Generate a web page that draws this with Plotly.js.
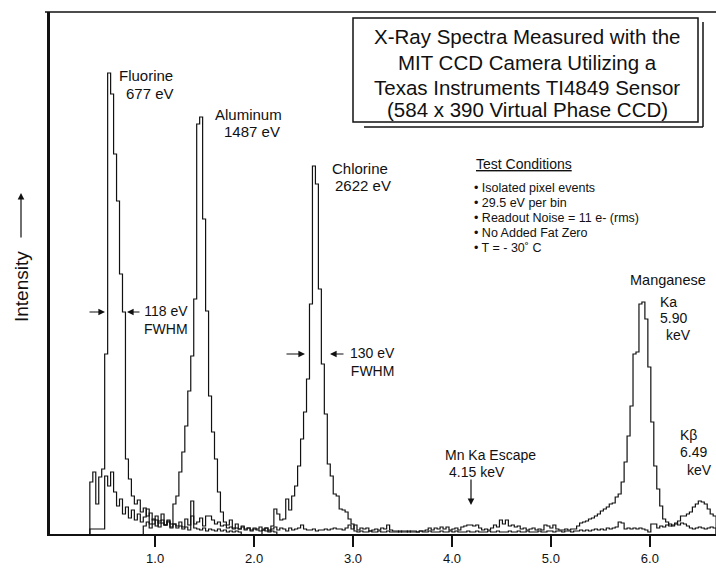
<!DOCTYPE html>
<html>
<head>
<meta charset="utf-8">
<script src="https://cdn.plot.ly/plotly-3.0.1.min.js"></script>
<style>html,body{margin:0;padding:0;background:#fff;}#chart{width:716px;height:568px;}</style>
</head>
<body>
<div id="chart"></div>
<script>
// ---------------- DATA (energy in keV, intensity in arbitrary counts) ----------------
const binWidth = 0.03;               // histogram bin width (keV)
const tickValues = [1, 2, 3, 4, 5, 6];
const tickLabels = ["1.0", "2.0", "3.0", "4.0", "5.0", "6.0"];

// Fluorine spectrum
const fluorineStart = 0.34;
const fluorineCounts = [52,62,30,57,65,180,461,440,380,333,260,222,75,55,38,30,34,22,26,18,21,14,18,11,14,9,12,7,10,6,8,5,7,4,33,6,5,4,6,3,5,4,3,5,3,4,2,3,2,3,2];

// Aluminum spectrum
const aluminumStart = 0.34;
const aluminumCounts = [5,5,5,5,5,58,48,62,42,28,35,20,27,16,24,14,20,12,17,25,10,15,8,13,20,9,14,10,
  30,38,62,82,108,143,178,235,410,417,315,223,138,102,75,42,22,12,
  9,14,6,10,5,8,4,6,3,5,4,3,4,3,2,3,2];

// Chlorine spectrum
const chlorineStart = 0.88;
const chlorineCounts = [8,12,6,10,14,7,11,9,13,6,10,8,12,7,15,9,18,10,12,16,8,18,18,14,10,12,8,9,6,7,5,6,5,7,5,6,4,6,5,7,5,6,4,
  8,25,20,14,15,35,24,38,48,68,95,122,155,230,368,350,245,170,120,70,58,40,38,25,24,22,15,10,
  3,2,3,2,2,3,2,2,3,2,2,3,2,2,2,3,
  2,2,3,2,2,2,3,2,2,3,2,2,2,3,2,2,3,2,3,2,2,2,3,2,2,3,2,2,2,3,2,2,3,2,2,2,3,2,2,3,2,2,3,2,2,2,3,2,2,3,
  3,2,3,3,2,3,3,2,3,3,4,3,4,3,4,5,4,
  5,4,6,5,6,7,12,11,5,6,5,6,5,6,5,4,2,10,10,6,8,7,9,10,8,11,9,11,10,8,6,5,6,7,6,5,6,7,6];

// Manganese spectrum (incl. Mn Ka escape, Ka and Kb lines)
const manganeseStart = 2.08;
const manganeseCounts = [4,6,3,5,7,4,6,5,3,6,4,5,
  6,9,5,4,4,5,3,4,4,5,4,5,6,5,5,4,6,9,5,9,4,6,5,6,3,4,5,4,6,5,
  9,4,3,3,2,3,3,2,3,3,2,3,3,4,6,4,6,5,7,5,7,4,5,6,4,7,8,9,9,8,
  9,6,4,5,4,6,9,7,14,10,14,8,9,7,8,5,6,4,5,6,4,5,4,9,8,6,9,5,4,4,
  5,4,5,5,8,
  11,12,13,15,16,18,20,23,25,27,30,31,37,40,52,72,98,128,180,182,230,232,215,167,112,68,45,28,15,12,
  8,9,10,13,18,18,20,22,27,30,33,32,30,25,20,18];

// ---------------- helpers ----------------
function stepXY(start, vals) {
  const x = [start], y = [0];
  for (let i = 0; i < vals.length; i++) { x.push(start + i * binWidth); y.push(vals[i]); }
  const end = start + vals.length * binWidth;
  x.push(end); y.push(vals[vals.length - 1]);
  x.push(end); y.push(0);
  return {x, y};
}
// layout placement helpers: pixel -> axis coordinates (for labels only)
const X = px => (px - 56.2) / 98.94;
const Y = py => 534 - py;

const FONT = "Liberation Sans, Arial, Helvetica, sans-serif";
const INK = "#111";
const lineStyle = {shape: "hv", width: 1.2, color: INK};

const series = [
  [manganeseStart, manganeseCounts],
  [chlorineStart, chlorineCounts],
  [aluminumStart, aluminumCounts],
  [fluorineStart, fluorineCounts]
];
const traces = series.map(([s, v]) => {
  const d = stepXY(s, v);
  return {type: "scatter", mode: "lines", x: d.x, y: d.y, line: lineStyle, hoverinfo: "skip", showlegend: false};
});

const ann = [];
function txt(px, py, text, size, anchor, align) {
  ann.push({x: X(px), y: Y(py), xref: "x", yref: "y", text: text, showarrow: false,
    xanchor: anchor || "left", yanchor: "middle", align: align || anchor || "left",
    font: {family: FONT, size: size, color: INK}});
}
function arrow(hx, hy, ax, ay) {
  ann.push({x: X(hx), y: Y(hy), xref: "x", yref: "y", text: "", showarrow: true,
    ax: ax, ay: ay, arrowhead: 2, arrowsize: 1.1, arrowwidth: 1.2, arrowcolor: INK, standoff: 0});
}

txt(117, 75, "Fluorine", 15); txt(124, 93, "677 eV", 15);
txt(213, 114, "Aluminum", 15); txt(222, 131, "1487 eV", 15);
txt(330, 168, "Chlorine", 15); txt(333, 185, "2622 eV", 15);
txt(190, 320, "118 eV<br>FWHM", 14, "right");
txt(397, 362, "130 eV<br>FWHM", 14, "right");
arrow(105, 312, -17, 0); arrow(127, 312, 14, 0);
arrow(305, 354, -20, 0); arrow(330, 354, 15, 0);

txt(474, 164, "<u>Test Conditions</u>", 14);
txt(472, 188, "• Isolated pixel events", 12.5);
txt(472, 203, "• 29.5 eV per bin", 12.5);
txt(472, 218, "• Readout Noise = 11 e- (rms)", 12.5);
txt(472, 233, "• No Added Fat Zero", 12.5);
txt(472, 248, "• T = - 30˚ C", 12.5);

txt(628, 280, "Manganese", 14.5);
txt(658, 302, "Ka", 14); txt(658, 318, "5.90", 14); txt(664, 335, "keV", 14);
txt(678, 435, "Kβ", 14); txt(678, 452, "6.49", 14); txt(685, 470, "keV", 14);
txt(443, 455, "Mn Ka Escape", 14); txt(447, 472, "4.15 keV", 14);
arrow(471, 505, 0, -27);

txt(527, 36, "X-Ray Spectra Measured with the", 20.5, "center");
txt(527, 62, "MIT CCD Camera Utilizing a", 20.5, "center");
txt(527, 87, "Texas Instruments TI4849 Sensor", 20.5, "center");
txt(527, 109, "(584 x 390 Virtual Phase CCD)", 20.5, "center");

ann.push({xref: "paper", yref: "paper", x: (21 - 50) / 666, y: (534 - 287) / 522, text: "Intensity",
  textangle: -90, showarrow: false, xanchor: "center", yanchor: "middle",
  font: {family: FONT, size: 19, color: INK}});
ann.push({xref: "paper", yref: "paper", x: (21 - 50) / 666, y: (534 - 193) / 522, text: "",
  showarrow: true, ax: 0, ay: 46, arrowhead: 2, arrowsize: 1.1, arrowwidth: 1.2, arrowcolor: INK, standoff: 0});

const shapes = [
  {type: "line", xref: "paper", yref: "paper", x0: (45 - 50) / 666, x1: 1, y0: 1, y1: 1, line: {color: INK, width: 1.5}},
  {type: "line", xref: "x", yref: "y", x0: X(364), x1: X(703), y0: Y(127), y1: Y(127), line: {color: INK, width: 1.5}, layer: "above"},
  {type: "line", xref: "x", yref: "y", x0: X(703), x1: X(703), y0: Y(22), y1: Y(127), line: {color: INK, width: 1.5}, layer: "above"},
  {type: "rect", xref: "x", yref: "y", x0: X(353), x1: X(698), y0: Y(122), y1: Y(18), line: {color: INK, width: 1.5}, fillcolor: "#fff", layer: "above"}
];

const layout = {
  width: 716, height: 568,
  margin: {l: 50, r: 0, t: 12, b: 34, pad: 0},
  paper_bgcolor: "#fff", plot_bgcolor: "#fff",
  showlegend: false,
  font: {family: FONT, color: INK},
  xaxis: {range: [X(50), X(716)], showline: true, linewidth: 2, linecolor: INK,
    ticks: "outside", ticklen: 11, tickwidth: 1.5, tickcolor: INK,
    tickvals: tickValues, ticktext: tickLabels, tickfont: {family: FONT, size: 13, color: INK},
    showgrid: false, zeroline: false, fixedrange: true},
  yaxis: {range: [0, 522], showline: true, linewidth: 3, linecolor: INK, ticks: "",
    showticklabels: false, showgrid: false, zeroline: false, fixedrange: true},
  annotations: ann,
  shapes: shapes
};

Plotly.newPlot("chart", traces, layout, {staticPlot: true, displayModeBar: false});
</script>
</body>
</html>
